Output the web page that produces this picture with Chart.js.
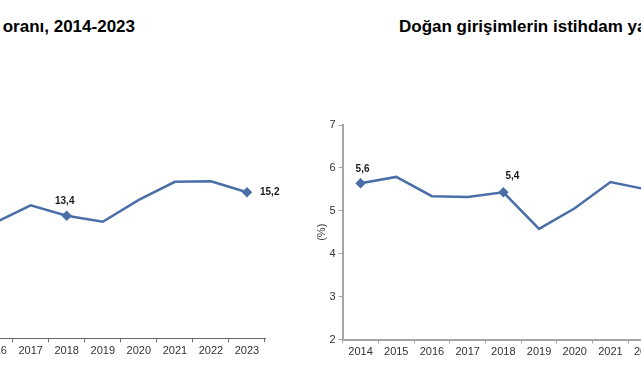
<!DOCTYPE html>
<html>
<head>
<meta charset="utf-8">
<script src="https://cdn.jsdelivr.net/npm/chart.js@4/dist/chart.umd.min.js"></script>
<style>
  html, body { margin:0; padding:0; width:641px; height:380px; overflow:hidden; background:#fff; }
  .wrap { position:relative; width:641px; height:380px; overflow:hidden; }
  canvas { position:absolute; top:0; }
  #leftChart { left:-300px; }
  #rightChart { left:300px; }
  .title { position:absolute; top:17px; font:bold 17px "Liberation Sans", Arial, sans-serif; color:#000; white-space:nowrap; }
  #leftTitle { right:506px; }
  #rightTitle { left:399px; }
</style>
</head>
<body>
<div class="wrap">
  <div class="title" id="leftTitle">oranı, 2014-2023</div>
  <div class="title" id="rightTitle">Doğan girişimlerin istihdam yaratma oranı, 2014-2023</div>
  <canvas id="leftChart" width="600" height="380"></canvas>
  <canvas id="rightChart" width="500" height="380"></canvas>
</div>
<script>
// ---- data ----
const years = ['2014','2015','2016','2017','2018','2019','2020','2021','2022','2023'];
const leftValues  = [null, null, 12.85, 14.2, 13.4, 12.94, 14.62, 16.0, 16.05, 15.2];
const rightValues = [5.64, 5.79, 5.34, 5.32, 5.43, 4.58, 5.06, 5.67, 5.5, null];
const rightYTicks = [2, 3, 4, 5, 6, 7];
const leftLabelled  = [4, 9];
const rightLabelled = [0, 4];

// ---- styles ----
const lineColor = '#4a6ea8';
const tickFont = { family: '"Liberation Sans Narrow", "Liberation Sans", Arial, sans-serif', size: 11 };

const valueLabels = {
  id: 'valueLabels',
  afterDatasetsDraw(chart, args, opts) {
    const meta = chart.getDatasetMeta(0);
    const ds = chart.data.datasets[0].data;
    const ctx = chart.ctx;
    ctx.save();
    ctx.font = 'bold 10px "Liberation Sans", Arial, sans-serif';
    ctx.fillStyle = '#1a1a1a';
    ctx.textBaseline = 'middle';
    (opts.items || []).forEach(it => {
      const p = meta.data[it.index];
      const v = ds[it.index];
      if (!p || v == null) return;
      ctx.textAlign = it.align || 'center';
      ctx.fillText(v.toFixed(1).replace('.', ','), p.x + it.dx, p.y + it.dy);
    });
    ctx.restore();
  }
};

function radii(n, idx) { return Array.from({length:n}, (_, i) => idx.includes(i) ? 3.5 : 0); }

// ---- left chart ----
new Chart(document.getElementById('leftChart'), {
  type: 'line',
  data: { labels: years, datasets: [{
    data: leftValues, borderColor: lineColor, backgroundColor: lineColor,
    borderWidth: 2.5, tension: 0, spanGaps: false,
    pointStyle: 'rectRot', pointRadius: radii(years.length, leftLabelled), pointHoverRadius: 0
  }]},
  options: {
    responsive: false, animation: false, events: [],
    layout: { padding: { left: 204.5, right: 35, top: 129.7, bottom: 11.7 } },
    plugins: { legend: { display: false }, tooltip: { enabled: false },
      valueLabels: { items: [ { index: 4, dx: -2, dy: -14 }, { index: 9, dx: 13, dy: 0, align: 'left' } ] } },
    scales: {
      x: { type: 'category', offset: true,
        grid: { offset: true, drawOnChartArea: false, drawTicks: true, tickLength: 4, color: '#6b6b6b' },
        border: { display: true, color: '#6b6b6b', width: 1 },
        ticks: { font: tickFont, color: '#333', padding: 2, autoSkip: false, maxRotation: 0 },
        afterFit(s) { s.height = 30; } },
      y: { display: false, min: 4, max: 20 }
    }
  },
  plugins: [valueLabels]
});

// ---- right chart ----
new Chart(document.getElementById('rightChart'), {
  type: 'line',
  data: { labels: years, datasets: [{
    data: rightValues, borderColor: lineColor, backgroundColor: lineColor,
    borderWidth: 2.5, tension: 0, spanGaps: false,
    pointStyle: 'rectRot', pointRadius: radii(years.length, rightLabelled), pointHoverRadius: 0
  }]},
  options: {
    responsive: false, animation: false, events: [],
    layout: { padding: { left: 15, right: 100.3, top: 125, bottom: 10.5 } },
    plugins: { legend: { display: false }, tooltip: { enabled: false },
      valueLabels: { items: [ { index: 0, dx: 2, dy: -14 }, { index: 4, dx: 9, dy: -16 } ] } },
    scales: {
      x: { type: 'category', offset: true,
        grid: { offset: true, drawOnChartArea: false, drawTicks: true, tickLength: 4, color: '#a6a6a6' },
        border: { display: true, color: '#a6a6a6', width: 2 },
        ticks: { font: tickFont, color: '#333', padding: 2, autoSkip: false, maxRotation: 0 },
        afterFit(s) { s.height = 30; } },
      y: { min: rightYTicks[0], max: rightYTicks[rightYTicks.length - 1],
        afterBuildTicks(s) { s.ticks = rightYTicks.map(v => ({ value: v })); },
        grid: { drawOnChartArea: false, drawTicks: true, tickLength: 4, color: '#a6a6a6' },
        border: { display: true, color: '#a6a6a6', width: 2 },
        ticks: { font: tickFont, color: '#333', padding: 3 },
        title: { display: true, text: '(%)', font: { family: '"Liberation Sans", Arial, sans-serif', size: 11 }, color: '#333', padding: 0 },
        afterFit(s) { s.width = 27.7; } }
    }
  },
  plugins: [valueLabels]
});
</script>
</body>
</html>
